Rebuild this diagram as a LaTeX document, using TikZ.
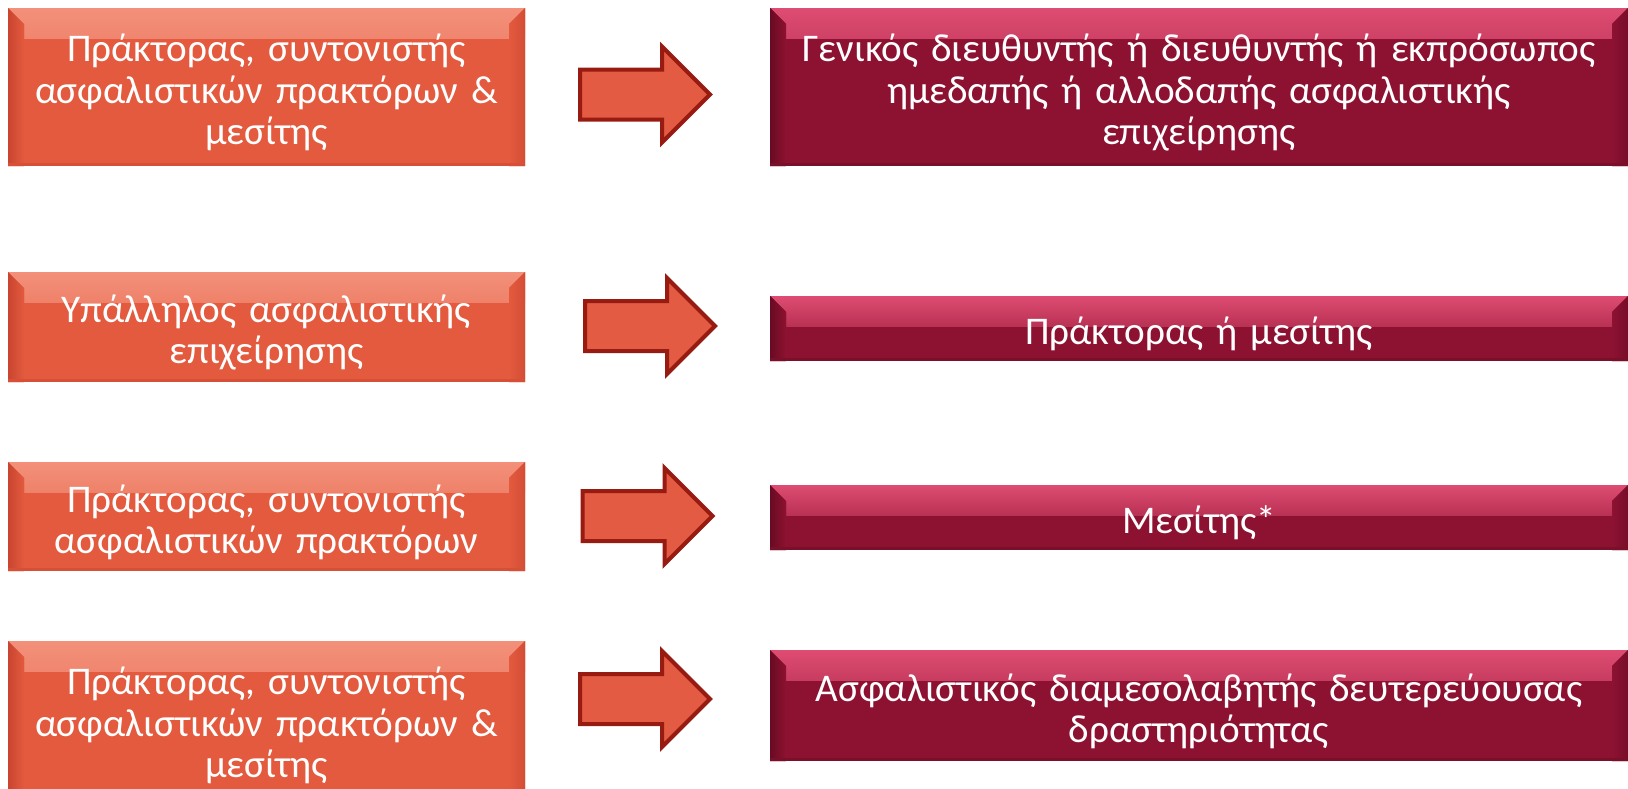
\documentclass[tikz,border=0pt]{standalone}
\usepackage{fontspec}
\setmainfont{Carlito}
\usetikzlibrary{shapes.arrows,positioning}
\definecolor{flame}{HTML}{E35A3E}
\definecolor{flamelight}{HTML}{F3907A}
\definecolor{flamedark}{HTML}{C94530}
\definecolor{wine}{HTML}{8D1232}
\definecolor{winelight}{HTML}{DE4C72}
\definecolor{winedark}{HTML}{680B22}
\definecolor{arrowline}{HTML}{981B12}
\definecolor{arrowfill}{HTML}{E35B43}

\begin{document}
\begin{tikzpicture}[x=0.5pt,y=-0.5pt,
every node/.style={font=\fontsize{19.6}{20.75}\selectfont,align=center,text=white},
bevel/.style n args={3}{fill=#1,execute at begin node={\rule{0pt}{19.5pt}},path picture={
  \fill[top color=#2,bottom color=#1]
    (path picture bounding box.north west) rectangle ([yshift=-15pt]path picture bounding box.north east);
  \fill[left color=#3,right color=#1]
    (path picture bounding box.north west)--([xshift=8pt,yshift=-8pt]path picture bounding box.north west)
    --([xshift=8pt]path picture bounding box.south west)--(path picture bounding box.south west)--cycle;
  \fill[right color=#3!60!#1,left color=#1]
    (path picture bounding box.north east)--([xshift=-8pt,yshift=-8pt]path picture bounding box.north east)
    --([xshift=-8pt]path picture bounding box.south east)--(path picture bounding box.south east)--cycle;
  \fill[#3!50!#1]
    (path picture bounding box.south west) rectangle ([yshift=1.5pt]path picture bounding box.south east);}},
src/.style={bevel={flame}{flamelight}{flamedark},minimum width=258.5pt,text width=255pt,inner sep=0pt},
dst/.style={bevel={wine}{winelight}{winedark},minimum width=429pt,text width=425pt,inner sep=0pt},
blk/.style={single arrow,draw=arrowline,fill=arrowfill,line width=2pt,inner sep=0pt,
  text height=23pt,text depth=0pt,minimum height=65pt,single arrow head extend=11.5pt}]
\useasboundingbox (0,0) rectangle (1628,788);
% left column
\node[src,minimum height=79pt] (l1) at (266.5,87) {Πράκτορας, συντονιστής\\ασφαλιστικών πρακτόρων \&\\μεσίτης};
\node[src,minimum height=55pt] (l2) at (266.5,327) {Υπάλληλος ασφαλιστικής\\επιχείρησης};
\node[src,minimum height=54.5pt] (l3) at (266.5,516.5) {Πράκτορας, συντονιστής\\ασφαλιστικών πρακτόρων};
\node[src,minimum height=79pt] (l4) at (266.5,720) {Πράκτορας, συντονιστής\\ασφαλιστικών πρακτόρων \&\\μεσίτης};
% right column
\node[dst,minimum height=79pt] (r1) at (1199,87) {Γενικός διευθυντής ή διευθυντής ή εκπρόσωπος\\ημεδαπής ή αλλοδαπής ασφαλιστικής\\επιχείρησης};
\node[dst,minimum height=32.5pt] (r2) at (1199,328.5) {Πράκτορας ή μεσίτης};
\node[dst,minimum height=32.5pt] (r3) at (1199,517.5) {Μεσίτης*};
\node[dst,minimum height=55.5pt] (r4) at (1199,705.5) {Ασφαλιστικός διαμεσολαβητής δευτερεύουσας\\δραστηριότητας};
% arrows
\node[blk] (a1) at (632.5,94.5) {};
\node[blk] (a2) at (637.5,326) {};
\node[blk] (a3) at (635,516) {};
\node[blk] (a4) at (632.5,699) {};
\end{tikzpicture}
\end{document}
